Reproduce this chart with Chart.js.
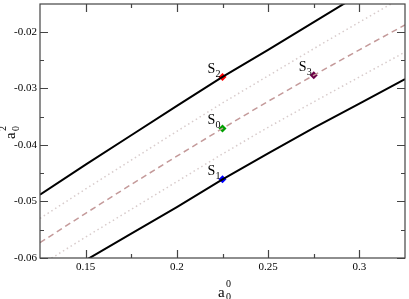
<!DOCTYPE html>
<html>
<head>
<meta charset="utf-8">
<script src="https://cdn.jsdelivr.net/npm/chart.js@4"></script>
<style>
  body { margin: 0; background: #fff; }
  canvas { display: block; }
</style>
</head>
<body>
<canvas id="chart" width="409" height="299"></canvas>
<script>
// valores
const xGrid = [0.125, 0.15, 0.175, 0.2, 0.225, 0.25, 0.275, 0.3, 0.325];
const upperBound = [-0.0488, -0.0435, -0.0383, -0.0331, -0.0280, -0.0232, -0.0183, -0.0134, -0.0085];
const upperDotted = [-0.0530, -0.0478, -0.0427, -0.0376, -0.0326, -0.0278, -0.0230, -0.0183, -0.0137];
const centralDashed = [-0.0573, -0.0521, -0.0470, -0.0420, -0.0371, -0.0323, -0.0277, -0.0232, -0.0188];
const lowerDotted = [-0.0613, -0.0563, -0.0514, -0.0465, -0.0416, -0.0369, -0.0324, -0.0280, -0.0236];
const lowerBound = [-0.0652, -0.0604, -0.0557, -0.0510, -0.0461, -0.0415, -0.0370, -0.0327, -0.0284];

const pointNames = ["0", "1", "2", "3"];  // subscritos de S
const pointX = [0.225, 0.225, 0.225, 0.275];
const pointY = [-0.0371, -0.0461, -0.0280, -0.0277];
const pointColors = ["#00a000", "#0000ff", "#ff0000", "#6a0048"];

const xTicks = [0.15, 0.2, 0.25, 0.3];
const xMinorTicks = [0.175, 0.225, 0.275];
const yTicks = [-0.06, -0.05, -0.04, -0.03, -0.02];
const yMinorTicks = [-0.055, -0.045, -0.035, -0.025];

function toPoints(ys) {
    return xGrid.map((x, i) => ({ x: x, y: ys[i] }));
}

function lineSet(ys, color, width, dash) {
    return {
        data: toPoints(ys),
        showLine: true,
        borderColor: color,
        borderWidth: width,
        borderDash: dash,
        pointRadius: 0,
        fill: false,
        clip: 0
    };
}

const datasets = [
    lineSet(upperBound, "#000", 2, []),
    lineSet(lowerBound, "#000", 2, []),
    lineSet(upperDotted, "#d8cccc", 1.5, [1.5, 3]),
    lineSet(lowerDotted, "#d8cccc", 1.5, [1.5, 3]),
    lineSet(centralDashed, "#c49a9a", 1.5, [6, 4])
];

pointNames.forEach((name, i) => {
    datasets.push({
        data: [{ x: pointX[i], y: pointY[i] }],
        pointStyle: "rectRot",
        pointRadius: 4,
        backgroundColor: pointColors[i],
        borderColor: pointColors[i],
        borderWidth: 0,
        clip: false
    });
});

const serif = "'Liberation Serif', 'DejaVu Serif', serif";

// moldura, ticks internos, rótulos S e títulos dos eixos
const decorations = {
    id: "decorations",
    afterDraw(chart) {
        const ctx = chart.ctx;
        const area = chart.chartArea;
        const xs = chart.scales.x;
        const ys = chart.scales.y;
        ctx.save();

        // rótulos dos pontos
        ctx.fillStyle = "#000";
        ctx.textAlign = "left";
        ctx.textBaseline = "alphabetic";
        pointNames.forEach((name, i) => {
            const px = xs.getPixelForValue(pointX[i]);
            const py = ys.getPixelForValue(pointY[i]);
            ctx.font = "14px " + serif;
            ctx.fillText("S", px - 15, py - 4);
            ctx.font = "10px " + serif;
            ctx.fillText(name, px - 7, py);
        });

        // moldura
        ctx.strokeStyle = "#444";
        ctx.lineWidth = 1.2;
        ctx.strokeRect(area.left, area.top, area.right - area.left, area.bottom - area.top);

        ctx.beginPath();
        const tickX = (v, len) => {
            const p = Math.round(xs.getPixelForValue(v)) + 0.5;
            ctx.moveTo(p, area.bottom); ctx.lineTo(p, area.bottom - len);
            ctx.moveTo(p, area.top); ctx.lineTo(p, area.top + len);
        };
        const tickY = (v, len) => {
            const p = Math.round(ys.getPixelForValue(v)) + 0.5;
            ctx.moveTo(area.left, p); ctx.lineTo(area.left + len, p);
            ctx.moveTo(area.right, p); ctx.lineTo(area.right - len, p);
        };
        xTicks.forEach(v => tickX(v, 8));
        xMinorTicks.forEach(v => tickX(v, 4));
        yTicks.forEach(v => tickY(v, 8));
        yMinorTicks.forEach(v => tickY(v, 4));
        ctx.stroke();

        // título do eixo x: a com 0 sobrescrito e subscrito
        ctx.fillStyle = "#000";
        ctx.font = "15px " + serif;
        ctx.fillText("a", 218, 297);
        ctx.font = "10px " + serif;
        ctx.fillText("0", 226, 287);
        ctx.fillText("0", 226, 300);

        // título do eixo y (girado)
        ctx.translate(15, 139);
        ctx.rotate(-Math.PI / 2);
        ctx.font = "15px " + serif;
        ctx.fillText("a", 0, 0);
        ctx.font = "10px " + serif;
        ctx.fillText("2", 8, -9);
        ctx.fillText("0", 8, 4);
        ctx.restore();
    }
};

const fmt = v => String(Number(v.toFixed(3)));

// zera o padding extra que o Chart.js reserva para os rótulos
function noPad(s) {
    s.paddingTop = 0;
    s.paddingBottom = 0;
    s.paddingLeft = 0;
    s.paddingRight = 0;
}

new Chart(document.getElementById("chart").getContext("2d"), {
    type: "scatter",
    data: { datasets: datasets },
    options: {
        responsive: false,
        animation: false,
        layout: { padding: { top: 1, right: 2, left: 0, bottom: 0 } },
        plugins: { legend: { display: false }, tooltip: { enabled: false } },
        scales: {
            x: {
                type: "linear",
                min: 0.125,
                max: 0.325,
                grid: { display: false, drawTicks: false },
                border: { display: false },
                afterBuildTicks: s => { s.ticks = xTicks.map(v => ({ value: v })); },
                afterFit: s => { s.height = 41; noPad(s); },
                ticks: {
                    padding: 3,
                    color: "#000",
                    font: { family: serif, size: 11 },
                    callback: fmt,
                    maxRotation: 0
                }
            },
            y: {
                type: "linear",
                min: -0.06,
                max: -0.0151,
                grid: { display: false, drawTicks: false },
                border: { display: false },
                afterBuildTicks: s => { s.ticks = yTicks.map(v => ({ value: v })); },
                afterFit: s => { s.width = 40; noPad(s); },
                ticks: {
                    padding: 3,
                    color: "#000",
                    font: { family: serif, size: 11 },
                    callback: fmt
                }
            }
        }
    },
    plugins: [decorations]
});
</script>
</body>
</html>
